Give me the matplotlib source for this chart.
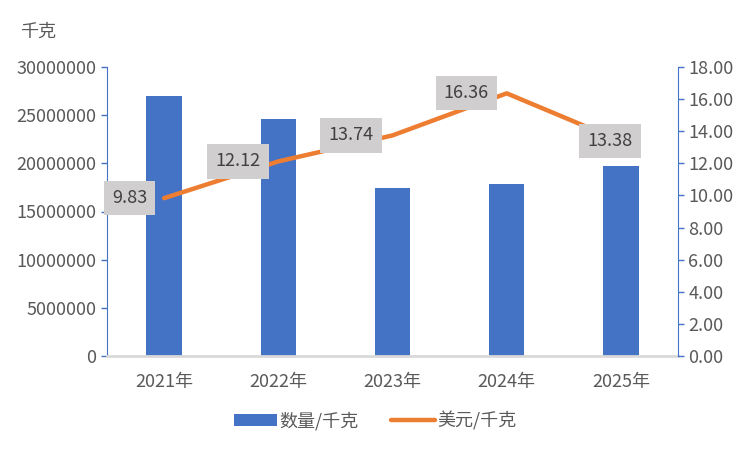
import numpy as np
import matplotlib
matplotlib.use('Agg')
import matplotlib.pyplot as plt
from matplotlib.ticker import FormatStrFormatter

plt.rcParams['font.family'] = ['Noto Sans CJK SC', 'DejaVu Sans']

# --- Data ---
years = ['2021年', '2022年', '2023年', '2024年', '2025年']
quantity = [27000000, 24600000, 17400000, 17900000, 19700000]   # 数量/千克
price = [9.83, 12.12, 13.74, 16.36, 13.38]                       # 美元/千克

# label offsets (points) relative to each line point
label_dx = [-25, -29, -30, -29, -8]
label_dy = [0, 0, 0, 0, 0]

BLUE = '#4472C4'
ORANGE = '#ED7D31'
TXT = '#595959'

fig = plt.figure(figsize=(7.5, 4.5), dpi=100)
ax = fig.add_axes([0.1427, 0.2089, 0.7613, 0.6422])
ax2 = ax.twinx()

x = np.arange(len(years))
ax.bar(x, quantity, width=0.31, color=BLUE, zorder=2, label='数量/千克')
ax.set_xlim(-0.5, len(years) - 0.5)
ax.set_ylim(0, 30000000)
ax.set_yticks(np.arange(0, 30000001, 5000000))
ax.yaxis.set_major_formatter(FormatStrFormatter('%d'))

ax2.plot(x, price, color=ORANGE, lw=3.2, solid_capstyle='round', zorder=3, label='美元/千克')
ax2.set_ylim(0, 18)
ax2.set_yticks(np.arange(0, 18.01, 2))
ax2.yaxis.set_major_formatter(FormatStrFormatter('%.2f'))

for i, v in enumerate(price):
    ax2.annotate(f'{v:.2f}', (x[i], v), xytext=(label_dx[i], label_dy[i]),
                 textcoords='offset points', ha='center', va='center',
                 fontsize=13, color='#404040',
                 bbox=dict(boxstyle='square,pad=0.45', fc='#D0CECE', ec='none'),
                 zorder=5)

# spines
for a in (ax, ax2):
    a.spines['top'].set_visible(False)
ax.spines['left'].set_color(BLUE)
ax.spines['right'].set_visible(False)
ax2.spines['left'].set_visible(False)
ax2.spines['right'].set_color(BLUE)
ax.spines['bottom'].set_color('#D9D9D9')
ax.spines['bottom'].set_linewidth(2)
ax2.spines['bottom'].set_visible(False)

ax.tick_params(axis='y', colors=BLUE, labelcolor=TXT, labelsize=13, length=4, width=1)
ax2.tick_params(axis='y', colors=BLUE, labelcolor=TXT, labelsize=13, length=4, width=1)
ax.tick_params(axis='x', length=0, labelcolor=TXT, labelsize=13, pad=12)
ax.set_xticks(x)
ax.set_xticklabels(years)

fig.text(0.027, 0.93, '千克', fontsize=13, color=TXT, ha='left', va='center')

h1, l1 = ax.get_legend_handles_labels()
h2, l2 = ax2.get_legend_handles_labels()
fig.legend(h1 + h2, l1 + l2, loc='center', bbox_to_anchor=(0.5, 0.065), ncol=2,
           frameon=False, fontsize=13, labelcolor=TXT, handlelength=2.4,
           handletextpad=0.15, columnspacing=1.8)

fig.savefig('out.png', dpi=100)
